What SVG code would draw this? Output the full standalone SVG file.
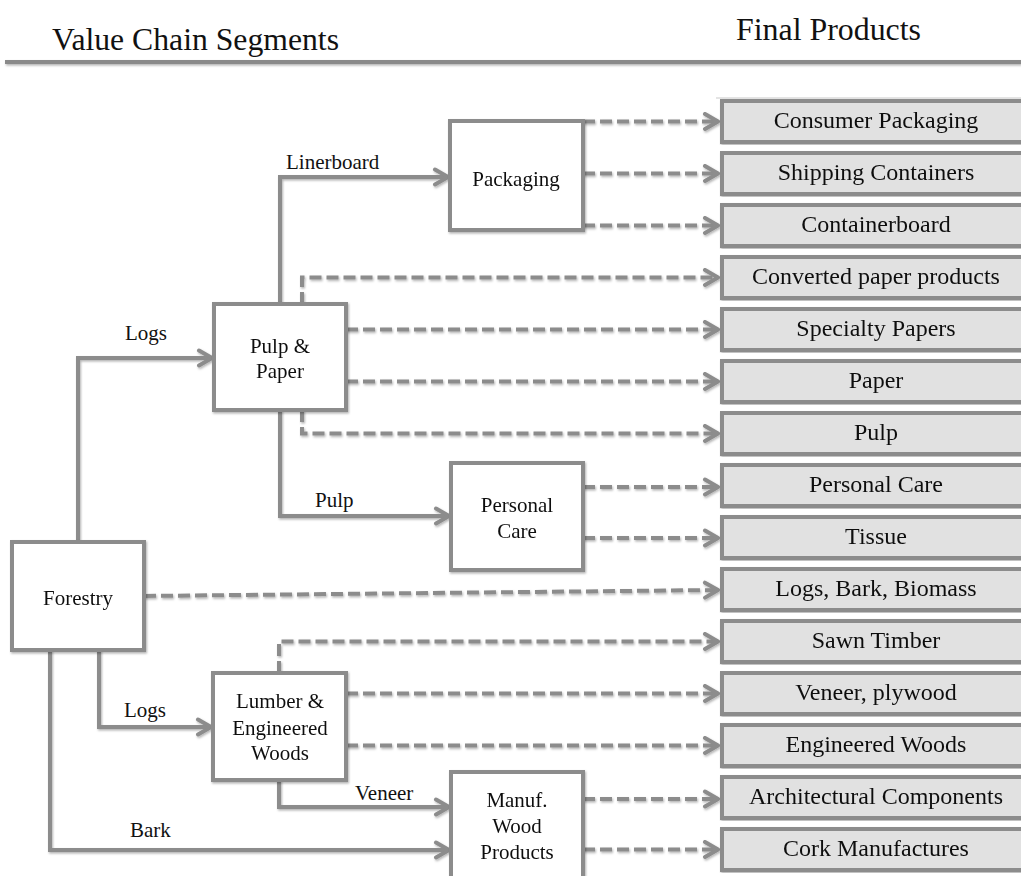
<svg xmlns="http://www.w3.org/2000/svg" width="1021" height="876" viewBox="0 0 1021 876">
<defs>
<filter id="sh" x="-5%" y="-5%" width="110%" height="110%">
<feDropShadow dx="1" dy="1.5" stdDeviation="1" flood-color="#000" flood-opacity="0.3"/>
</filter>
<filter id="shu" filterUnits="userSpaceOnUse" x="0" y="50" width="1021" height="30">
<feDropShadow dx="1" dy="1.5" stdDeviation="1" flood-color="#000" flood-opacity="0.3"/>
</filter>
<marker id="ah" markerUnits="userSpaceOnUse" markerWidth="20" markerHeight="20" viewBox="0 0 20 20" refX="16" refY="10" orient="auto">
<path d="M3,2.5 L16,10 L3,17.5" fill="none" stroke="#8c8c8c" stroke-width="4" stroke-linejoin="round" stroke-linecap="round"/>
</marker>
<style>
.node rect{fill:#fff;stroke:#8c8c8c;stroke-width:4}
.prod rect{fill:#e1e1e1;stroke:#8c8c8c;stroke-width:4}
text{font-family:"Liberation Serif","DejaVu Serif",serif;fill:#111}
.nt{font-size:21px;text-anchor:middle}
.pt{font-size:24px;text-anchor:middle}
.lb{font-size:21px}
.hd{font-size:31px}
.c path{fill:none;stroke:#8c8c8c;stroke-width:4;marker-end:url(#ah)}
.c .d{stroke-dasharray:12 5}
</style>
</defs>
<g id="header">
<text class="hd" x="52" y="50" textLength="287" lengthAdjust="spacingAndGlyphs">Value Chain Segments</text>
<text class="hd" x="736" y="40" textLength="185" lengthAdjust="spacingAndGlyphs">Final Products</text>
<rect x="5" y="60" width="1016" height="4" fill="#8a8a8a" filter="url(#shu)"/>
<rect x="716" y="97" width="305" height="2" fill="#e4e4e4"/>
</g>
<g id="connectors" class="c" filter="url(#sh)">
<path d="M78,542 V358 H212"/>
<path d="M280,304 V177 H448"/>
<path d="M280,410 V516 H449"/>
<path d="M99,650 V727 H211"/>
<path d="M50,650 V850 H449"/>
<path d="M279,780 V807 H449"/>
<path class="d" d="M583,121.5 H718"/>
<path class="d" d="M583,173.5 H718"/>
<path class="d" d="M583,225.5 H718"/>
<path class="d" d="M302,304 V277.5 H718"/>
<path class="d" d="M346,329.5 H718"/>
<path class="d" d="M346,381.5 H718"/>
<path class="d" d="M302,410 V433.5 H718"/>
<path class="d" d="M583,487 H718"/>
<path class="d" d="M583,538 H718"/>
<path class="d" d="M144,596 L718,590"/>
<path class="d" d="M279,673 V641.5 H718"/>
<path class="d" d="M346,693.5 H718"/>
<path class="d" d="M346,745.5 H718"/>
<path class="d" d="M583,799 H718"/>
<path class="d" d="M583,849.5 H718"/>
</g>
<g id="labels">
<text class="lb" x="286" y="169">Linerboard</text>
<text class="lb" x="125" y="340">Logs</text>
<text class="lb" x="315" y="507">Pulp</text>
<text class="lb" x="124" y="717">Logs</text>
<text class="lb" x="355" y="800">Veneer</text>
<text class="lb" x="130" y="837">Bark</text>
</g>
<g id="forestry" class="node" filter="url(#sh)"><rect x="12" y="542" width="132" height="108"/><text class="nt" x="78" y="605">Forestry</text></g>
<g id="pulp-paper" class="node" filter="url(#sh)"><rect x="214" y="304" width="132" height="106"/><text class="nt" x="280" y="353">Pulp &amp;</text><text class="nt" x="280" y="378">Paper</text></g>
<g id="packaging" class="node" filter="url(#sh)"><rect x="450" y="121" width="133" height="109"/><text class="nt" x="516" y="186">Packaging</text></g>
<g id="personal-care" class="node" filter="url(#sh)"><rect x="451" y="463" width="132" height="107"/><text class="nt" x="517" y="512">Personal</text><text class="nt" x="517" y="538">Care</text></g>
<g id="lumber" class="node" filter="url(#sh)"><rect x="213" y="673" width="133" height="107"/><text class="nt" x="280" y="708">Lumber &amp;</text><text class="nt" x="280" y="735">Engineered</text><text class="nt" x="280" y="760">Woods</text></g>
<g id="manuf" class="node" filter="url(#sh)"><rect x="451" y="772" width="132" height="112"/><text class="nt" x="517" y="807">Manuf.</text><text class="nt" x="517" y="833">Wood</text><text class="nt" x="517" y="859">Products</text></g>
<g id="p-consumer-packaging" class="prod" filter="url(#sh)"><rect x="722" y="101" width="320" height="41"/><text class="pt" x="876" y="128">Consumer Packaging</text></g>
<g id="p-shipping-containers" class="prod" filter="url(#sh)"><rect x="722" y="153" width="320" height="41"/><text class="pt" x="876" y="180">Shipping Containers</text></g>
<g id="p-containerboard" class="prod" filter="url(#sh)"><rect x="722" y="205" width="320" height="41"/><text class="pt" x="876" y="232">Containerboard</text></g>
<g id="p-converted" class="prod" filter="url(#sh)"><rect x="722" y="257" width="320" height="41"/><text class="pt" x="876" y="284">Converted paper products</text></g>
<g id="p-specialty" class="prod" filter="url(#sh)"><rect x="722" y="309" width="320" height="41"/><text class="pt" x="876" y="336">Specialty Papers</text></g>
<g id="p-paper" class="prod" filter="url(#sh)"><rect x="722" y="361" width="320" height="41"/><text class="pt" x="876" y="388">Paper</text></g>
<g id="p-pulp" class="prod" filter="url(#sh)"><rect x="722" y="413" width="320" height="41"/><text class="pt" x="876" y="440">Pulp</text></g>
<g id="p-personal-care" class="prod" filter="url(#sh)"><rect x="722" y="465" width="320" height="41"/><text class="pt" x="876" y="492">Personal Care</text></g>
<g id="p-tissue" class="prod" filter="url(#sh)"><rect x="722" y="517" width="320" height="41"/><text class="pt" x="876" y="544">Tissue</text></g>
<g id="p-logs-bark" class="prod" filter="url(#sh)"><rect x="722" y="569" width="320" height="41"/><text class="pt" x="876" y="596">Logs, Bark, Biomass</text></g>
<g id="p-sawn" class="prod" filter="url(#sh)"><rect x="722" y="621" width="320" height="41"/><text class="pt" x="876" y="648">Sawn Timber</text></g>
<g id="p-veneer" class="prod" filter="url(#sh)"><rect x="722" y="673" width="320" height="41"/><text class="pt" x="876" y="700">Veneer, plywood</text></g>
<g id="p-engineered" class="prod" filter="url(#sh)"><rect x="722" y="725" width="320" height="41"/><text class="pt" x="876" y="752">Engineered Woods</text></g>
<g id="p-architectural" class="prod" filter="url(#sh)"><rect x="722" y="777" width="320" height="41"/><text class="pt" x="876" y="804">Architectural Components</text></g>
<g id="p-cork" class="prod" filter="url(#sh)"><rect x="722" y="829" width="320" height="41"/><text class="pt" x="876" y="856">Cork Manufactures</text></g>
</svg>
